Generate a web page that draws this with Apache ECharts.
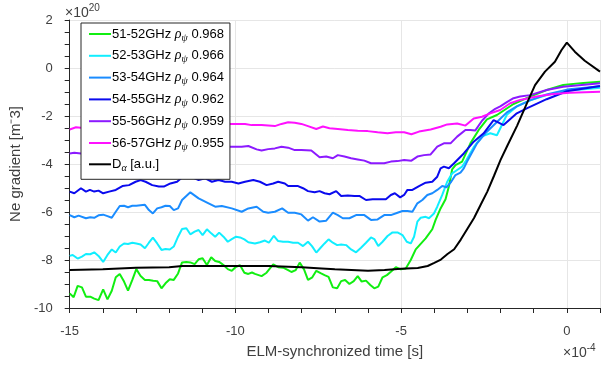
<!DOCTYPE html>
<html>
<head>
<meta charset="utf-8">
<script src="https://cdn.jsdelivr.net/npm/echarts@6/dist/echarts.min.js"></script>
<style>
  html, body { margin: 0; padding: 0; background: #fff; }
  #chart { width: 611px; height: 369px; }
</style>
</head>
<body>
<div id="chart"></div>
<script>
// Time axis is in units of 1e-4 s, density gradient in units of 1e20 m^-3.
const xTicks = [-15, -10, -5, 0];
const yTicks = [-10, -8, -6, -4, -2, 0, 2];

const legendNames = [
  '51-52GHz ρψ 0.968',
  '52-53GHz ρψ 0.966',
  '53-54GHz ρψ 0.964',
  '54-55GHz ρψ 0.962',
  '55-56GHz ρψ 0.959',
  '56-57GHz ρψ 0.955',
  'Dα [a.u.]'
];
const lineColors = ['#11ee11', '#11eeff', '#1a8cff', '#0a0aee', '#8c1aff', '#ff11ff', '#000000'];

// [time, gradient] pairs per reflectometer channel
const ch51 = [[-15,-9.39],[-14.88,-9.55],[-14.76,-9.08],[-14.63,-9.14],[-14.51,-9.53],[-14.38,-9.53],[-14.26,-9.61],[-14.13,-9.67],[-13.99,-9.22],[-13.86,-9.64],[-13.73,-9.28],[-13.61,-8.72],[-13.49,-8.58],[-13.36,-8.9],[-13.24,-9.28],[-13.11,-8.83],[-12.99,-8.38],[-12.86,-8.67],[-12.73,-8.83],[-12.61,-8.83],[-12.48,-8.86],[-12.36,-8.88],[-12.23,-9.18],[-12.11,-8.97],[-11.98,-8.8],[-11.86,-8.83],[-11.73,-8.56],[-11.61,-8.1],[-11.48,-8.08],[-11.36,-8.1],[-11.23,-8.17],[-11.11,-7.97],[-10.99,-7.93],[-10.86,-8.21],[-10.73,-7.89],[-10.61,-8.04],[-10.49,-8.08],[-10.36,-8.21],[-10.23,-8.38],[-10.11,-8.45],[-9.98,-8.28],[-9.86,-8.22],[-9.73,-8.53],[-9.61,-8.58],[-9.5,-8.52],[-9.41,-8.58],[-9.21,-8.67],[-9.06,-8.53],[-8.86,-8.18],[-8.71,-8.3],[-8.56,-8.32],[-8.41,-8.42],[-8.31,-8.5],[-8.18,-8.42],[-8.06,-8.11],[-7.93,-8.39],[-7.81,-8.83],[-7.68,-8.72],[-7.56,-8.45],[-7.43,-8.55],[-7.31,-8.63],[-7.19,-8.7],[-7.06,-9.14],[-6.93,-9.18],[-6.81,-8.88],[-6.69,-8.83],[-6.56,-9.0],[-6.43,-8.88],[-6.31,-8.67],[-6.19,-8.9],[-6.06,-8.86],[-5.93,-9.04],[-5.81,-9.18],[-5.69,-9.11],[-5.56,-8.72],[-5.43,-8.63],[-5.31,-8.49],[-5.16,-8.3],[-5.01,-8.39],[-4.86,-8.35],[-4.71,-8.0],[-4.56,-7.56],[-4.41,-7.33],[-4.26,-7.1],[-4.06,-6.72],[-3.96,-6.33],[-3.81,-5.85],[-3.66,-5.47],[-3.56,-4.94],[-3.46,-4.22],[-3.36,-4.05],[-3.16,-3.9],[-2.91,-3.14],[-2.66,-2.58],[-2.41,-2.14],[-2.11,-1.96],[-1.61,-1.5],[-1.11,-1.19],[-0.61,-0.92],[-0.11,-0.71],[0.5,-0.62],[1,-0.57]];

const ch52 = [[-15,-7.83],[-14.91,-7.79],[-14.76,-7.94],[-14.63,-7.86],[-14.51,-7.75],[-14.38,-7.76],[-14.26,-7.68],[-14.13,-7.83],[-13.99,-8.08],[-13.86,-7.79],[-13.73,-7.56],[-13.61,-7.69],[-13.49,-7.44],[-13.36,-7.31],[-13.24,-7.33],[-13.11,-7.28],[-12.99,-7.31],[-12.86,-7.35],[-12.73,-7.51],[-12.61,-7.28],[-12.49,-7.07],[-12.36,-7.31],[-12.23,-7.58],[-12.11,-7.54],[-11.98,-7.56],[-11.86,-7.44],[-11.73,-7.03],[-11.61,-6.71],[-11.48,-6.68],[-11.36,-6.93],[-11.23,-6.82],[-11.11,-6.75],[-10.99,-6.96],[-10.86,-6.72],[-10.73,-6.89],[-10.61,-7.03],[-10.49,-6.86],[-10.36,-7.03],[-10.23,-7.24],[-10.11,-7.13],[-9.98,-7.03],[-9.86,-7.06],[-9.73,-7.14],[-9.61,-7.26],[-9.41,-7.31],[-9.26,-7.26],[-9.11,-7.19],[-8.99,-7.28],[-8.84,-6.99],[-8.71,-7.21],[-8.56,-7.24],[-8.41,-7.24],[-8.26,-7.28],[-8.11,-7.28],[-7.96,-7.42],[-7.81,-7.24],[-7.69,-7.42],[-7.56,-7.69],[-7.43,-7.49],[-7.31,-7.31],[-7.19,-7.14],[-7.06,-7.28],[-6.93,-7.38],[-6.81,-7.35],[-6.66,-7.38],[-6.51,-7.56],[-6.36,-7.68],[-6.21,-7.49],[-6.06,-7.28],[-5.91,-7.06],[-5.81,-7.13],[-5.69,-7.42],[-5.56,-7.24],[-5.41,-7.0],[-5.26,-6.85],[-5.11,-6.85],[-4.96,-6.96],[-4.83,-7.24],[-4.71,-7.31],[-4.61,-7.03],[-4.51,-6.4],[-4.41,-6.24],[-4.26,-6.2],[-4.16,-6.26],[-4.01,-6.06],[-3.91,-5.78],[-3.76,-5.29],[-3.61,-4.74],[-3.46,-4.39],[-3.31,-4.25],[-3.16,-4.11],[-3.03,-3.83],[-2.81,-3.3],[-2.56,-2.85],[-2.31,-2.72],[-2.11,-2.8],[-1.81,-1.95],[-1.51,-1.6],[-1.11,-1.35],[-0.61,-1.13],[0,-0.95],[1,-0.82]];

const ch53 = [[-15,-6.13],[-14.86,-6.22],[-14.73,-6.15],[-14.51,-6.26],[-14.38,-6.22],[-14.26,-6.24],[-14.13,-6.14],[-13.99,-6.11],[-13.86,-6.17],[-13.73,-6.24],[-13.61,-5.99],[-13.49,-5.75],[-13.36,-5.74],[-13.24,-5.8],[-13.11,-5.74],[-12.99,-5.74],[-12.86,-5.72],[-12.73,-5.7],[-12.61,-5.92],[-12.49,-6.06],[-12.36,-5.85],[-12.23,-5.8],[-12.11,-5.74],[-11.98,-5.75],[-11.86,-5.92],[-11.73,-5.85],[-11.61,-5.5],[-11.36,-5.18],[-11.11,-5.43],[-10.81,-5.64],[-10.61,-5.78],[-10.41,-5.75],[-10.11,-5.85],[-9.81,-5.99],[-9.61,-5.85],[-9.36,-5.78],[-9.16,-5.99],[-9.01,-6.03],[-8.81,-5.99],[-8.59,-5.85],[-8.41,-6.03],[-8.21,-6.03],[-8.01,-6.1],[-7.81,-6.36],[-7.66,-6.22],[-7.46,-6.4],[-7.26,-6.36],[-7.06,-6.03],[-6.91,-6.13],[-6.76,-6.26],[-6.56,-6.26],[-6.36,-6.13],[-6.11,-6.13],[-5.91,-6.33],[-5.71,-6.31],[-5.51,-6.13],[-5.31,-6.13],[-5.11,-6.03],[-4.96,-5.96],[-4.81,-5.96],[-4.66,-5.99],[-4.51,-5.64],[-4.36,-5.5],[-4.21,-5.29],[-4.06,-5.22],[-3.91,-5.08],[-3.76,-4.92],[-3.63,-4.97],[-3.49,-4.74],[-3.36,-4.46],[-3.21,-4.36],[-3.11,-4.18],[-3.01,-3.9],[-2.71,-3.14],[-2.46,-2.72],[-2.11,-2.25],[-1.81,-1.85],[-1.51,-1.6],[-1.11,-1.35],[-0.61,-1.1],[0,-0.9],[1,-0.76]];

const ch54 = [[-15,-5.15],[-14.86,-5.22],[-14.66,-5.01],[-14.51,-5.15],[-14.39,-5.08],[-14.26,-5.15],[-14.13,-5.11],[-13.99,-5.22],[-13.81,-5.15],[-13.61,-5.08],[-13.41,-4.92],[-13.21,-4.88],[-13.01,-4.74],[-12.86,-4.67],[-12.71,-4.74],[-12.51,-4.88],[-12.31,-4.94],[-12.16,-4.94],[-11.96,-4.81],[-11.76,-4.74],[-11.56,-4.5],[-11.31,-4.55],[-11.11,-4.67],[-10.91,-4.6],[-10.71,-4.74],[-10.51,-4.67],[-10.31,-4.74],[-10.11,-4.74],[-9.91,-4.81],[-9.71,-4.74],[-9.46,-4.67],[-9.26,-4.74],[-9.06,-4.88],[-8.86,-4.81],[-8.71,-4.74],[-8.51,-4.81],[-8.41,-4.92],[-8.11,-4.92],[-7.96,-5.01],[-7.81,-5.13],[-7.61,-5.18],[-7.46,-5.13],[-7.31,-5.22],[-7.16,-5.26],[-6.96,-5.13],[-6.81,-5.33],[-6.61,-5.31],[-6.41,-5.33],[-6.26,-5.33],[-6.06,-5.5],[-5.86,-5.47],[-5.66,-5.47],[-5.46,-5.47],[-5.31,-5.29],[-5.19,-5.22],[-5.03,-5.39],[-4.91,-5.29],[-4.81,-5.08],[-4.66,-5.08],[-4.46,-4.92],[-4.26,-4.78],[-4.06,-4.74],[-3.91,-4.53],[-3.81,-4.18],[-3.71,-4.11],[-3.56,-4.18],[-3.41,-3.98],[-3.11,-3.56],[-2.81,-3.07],[-2.51,-2.72],[-2.21,-2.17],[-1.91,-2.38],[-1.51,-1.89],[-1.21,-1.68],[-0.61,-1.3],[0,-0.97],[1,-0.75]];

const ch55 = [[-15,-3.56],[-14.86,-3.53],[-14.66,-3.56],[-14.46,-3.65],[-14.2,-3.55],[-13.5,-3.45],[-12.5,-3.4],[-11.5,-3.35],[-10.6,-3.3],[-10.21,-3.28],[-9.81,-3.28],[-9.61,-3.25],[-9.36,-3.39],[-9.21,-3.44],[-9.01,-3.38],[-8.81,-3.35],[-8.61,-3.28],[-8.41,-3.32],[-8.21,-3.42],[-8.01,-3.42],[-7.71,-3.44],[-7.46,-3.72],[-7.26,-3.69],[-7.06,-3.76],[-6.91,-3.63],[-6.71,-3.69],[-6.51,-3.76],[-6.31,-3.81],[-6.11,-3.86],[-5.91,-3.97],[-5.71,-3.97],[-5.51,-3.97],[-5.31,-3.9],[-5.11,-3.88],[-4.91,-3.83],[-4.69,-3.86],[-4.51,-3.69],[-4.31,-3.63],[-4.11,-3.6],[-3.91,-3.28],[-3.71,-3.14],[-3.51,-3.14],[-3.31,-2.86],[-3.06,-2.58],[-2.91,-2.58],[-2.76,-2.6],[-2.56,-2.2],[-2.36,-1.9],[-2.16,-1.7],[-2.01,-1.6],[-1.81,-1.42],[-1.61,-1.26],[-1.41,-1.19],[-1.11,-1.13],[-0.61,-0.92],[-0.11,-0.78],[1,-0.64]];

const ch56 = [[-15,-2.56],[-14.81,-2.47],[-14.6,-2.5],[-14,-2.45],[-13,-2.4],[-12,-2.38],[-11,-2.35],[-10.21,-2.33],[-9.71,-2.33],[-9.51,-2.38],[-9.21,-2.38],[-8.81,-2.42],[-8.61,-2.33],[-8.41,-2.26],[-8.21,-2.28],[-8.01,-2.33],[-7.81,-2.42],[-7.56,-2.54],[-7.36,-2.44],[-7.16,-2.51],[-6.91,-2.54],[-6.61,-2.58],[-6.31,-2.61],[-6.01,-2.63],[-5.71,-2.68],[-5.41,-2.72],[-5.16,-2.68],[-4.91,-2.68],[-4.69,-2.76],[-4.46,-2.65],[-4.11,-2.56],[-3.81,-2.45],[-3.61,-2.35],[-3.31,-2.31],[-3.06,-2.4],[-2.81,-2.1],[-2.56,-2.03],[-2.31,-1.89],[-2.01,-1.75],[-1.71,-1.47],[-1.41,-1.33],[-0.91,-1.19],[-0.41,-1.08],[0.09,-1.03],[1,-0.99]];

// D-alpha emission, arbitrary units on the same scale
const dAlpha = [[-15,-8.42],[-14,-8.39],[-13,-8.32],[-12,-8.3],[-11.6,-8.25],[-11,-8.25],[-10,-8.25],[-9,-8.25],[-8,-8.3],[-7.4,-8.35],[-7,-8.39],[-6,-8.45],[-5.5,-8.42],[-5,-8.36],[-4.5,-8.33],[-4.2,-8.25],[-4.0,-8.12],[-3.8,-7.98],[-3.6,-7.75],[-3.4,-7.55],[-3.2,-7.15],[-3.0,-6.7],[-2.8,-6.25],[-2.6,-5.7],[-2.4,-5.15],[-2.2,-4.5],[-2.0,-3.83],[-1.8,-3.25],[-1.5,-2.4],[-1.2,-1.45],[-0.96,-0.71],[-0.66,-0.15],[-0.36,0.26],[-0.16,0.75],[0,1.06],[0.24,0.68],[0.54,0.3],[1,-0.15]];

const seriesData = [ch51, ch52, ch53, ch54, ch55, ch56, dAlpha];

const FONT = '"Liberation Sans", Arial, Helvetica, sans-serif';
const SERIF = '"Liberation Serif", "Times New Roman", serif';
const TXT = '#404040';
const AX = '#262626';

const chart = echarts.init(document.getElementById('chart'), null, { renderer: 'canvas' });

const series = seriesData.map((d, i) => ({
  name: legendNames[i],
  type: 'line',
  data: d,
  symbol: 'none',
  smooth: false,
  lineStyle: { color: lineColors[i], width: 2 },
  itemStyle: { color: lineColors[i] },
  z: i === 6 ? 3 : 2,
  animation: false
}));

function legendLabel(name) {
  if (name.indexOf('ρψ') >= 0) {
    const parts = name.split(' ρψ ');
    return parts[0] + ' {it|ρ}{sub|ψ} ' + parts[1];
  }
  return 'D{sub|α} [a.u.]';
}

chart.setOption({
  animation: false,
  backgroundColor: '#ffffff',
  textStyle: { fontFamily: FONT },
  grid: { left: 67, right: 11, top: 20, bottom: 61, containLabel: false },
  xAxis: {
    type: 'value',
    min: -15, max: 1, interval: 5,
    name: 'ELM-synchronized time [s]',
    nameLocation: 'middle',
    nameGap: 36,
    nameTextStyle: { color: TXT, fontSize: 15, fontFamily: FONT },
    axisLine: { show: true, onZero: false, lineStyle: { color: AX, width: 1 } },
    axisTick: { show: true, inside: false, length: 5, lineStyle: { color: AX } },
    minorTick: { show: true, splitNumber: 5, length: 5, lineStyle: { color: AX } },
    axisLabel: {
      color: TXT, fontSize: 13, margin: 17, fontFamily: FONT,
      showMaxLabel: false,
      formatter: v => (xTicks.indexOf(v) >= 0 ? String(v) : '')
    },
    splitLine: { show: true, lineStyle: { color: '#e6e6e6', width: 1 } },
    minorSplitLine: { show: false }
  },
  yAxis: {
    type: 'value',
    min: -10, max: 2, interval: 2,
    name: 'Ne gradient [m⁻3]',
    nameLocation: 'middle',
    nameGap: 35,
    nameRotate: 90,
    nameTextStyle: { color: TXT, fontSize: 15, fontFamily: FONT },
    axisLine: { show: true, onZero: false, lineStyle: { color: AX, width: 1 } },
    axisTick: { show: true, inside: false, length: 5, lineStyle: { color: AX } },
    minorTick: { show: true, splitNumber: 4, length: 5, lineStyle: { color: AX } },
    axisLabel: {
      color: TXT, fontSize: 13, margin: 17, fontFamily: FONT,
      formatter: v => (yTicks.indexOf(v) >= 0 ? String(v) : '')
    },
    splitLine: { show: true, lineStyle: { color: '#e6e6e6', width: 1 } }
  },
  legend: {
    orient: 'vertical',
    left: 81, top: 23,
    padding: [4, 6, 6, 7],
    itemWidth: 22, itemHeight: 14, itemGap: 5.8,
    backgroundColor: '#ffffff',
    borderColor: AX, borderWidth: 1, borderRadius: 0,
    data: legendNames,
    formatter: legendLabel,
    itemStyle: { color: 'rgba(0,0,0,0)', borderWidth: 0, opacity: 0 },
    lineStyle: { width: 2 },
    textStyle: {
      color: '#000', fontSize: 13, fontFamily: FONT, padding: [0, 0, 0, -4],
      rich: {
        it: { fontSize: 14, fontStyle: 'italic', fontFamily: SERIF, color: '#000' },
        sub: { fontSize: 10, fontStyle: 'italic', fontFamily: SERIF, color: '#000', padding: [8, 0, 0, 0] }
      }
    },
    z: 10
  },
  graphic: [
    {
      type: 'text', left: 65, top: 3, z: 10,
      style: {
        text: '{a|×10}{b|20}',
        rich: {
          a: { fontSize: 14, fill: TXT, fontFamily: FONT, padding: [6, 0, 0, 0] },
          b: { fontSize: 10, fill: TXT, fontFamily: FONT, padding: [0, 0, 4, 0] }
        }
      }
    },
    {
      type: 'text', left: 563, top: 343, z: 10,
      style: {
        text: '{a|×10}{b|-4}',
        rich: {
          a: { fontSize: 14, fill: TXT, fontFamily: FONT, padding: [6, 0, 0, 0] },
          b: { fontSize: 10, fill: TXT, fontFamily: FONT, padding: [0, 0, 4, 0] }
        }
      }
    }
  ],
  series: series
});
</script>
</body>
</html>
